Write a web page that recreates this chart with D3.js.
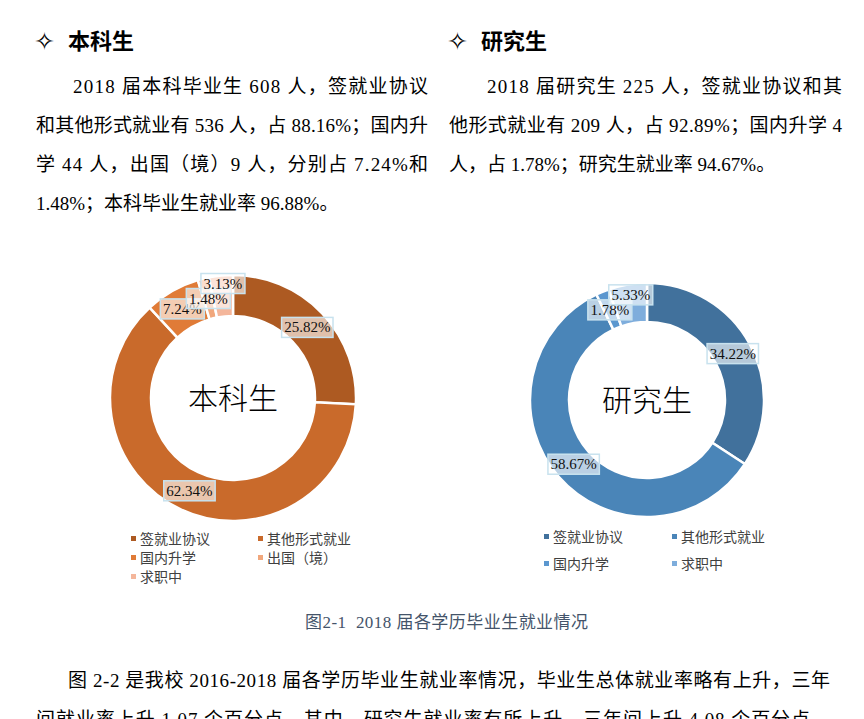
<!DOCTYPE html>
<html>
<head>
<meta charset="utf-8">
<script src="https://cdn.jsdelivr.net/npm/d3@7"></script>
<style>
  body { margin: 0; background: #fff; }
  svg text { font-family: "Liberation Serif", "Noto Sans CJK SC", serif; }
</style>
</head>
<body>
<div id="page"></div>
<script>
// data
var ugCats = ["签就业协议", "其他形式就业", "国内升学", "出国（境）", "求职中"];
var ugVals = [25.82, 62.34, 7.24, 1.48, 3.13];
var ugColors = ["#ad5a22", "#c96a2b", "#e07b37", "#f1a77c", "#f4b69b"];

var gradCats = ["签就业协议", "其他形式就业", "国内升学", "求职中"];
var gradVals = [34.22, 58.67, 1.78, 5.33];
var gradColors = ["#41719c", "#4a85b8", "#5b97cf", "#7eaddc"];

var ugLines = ["2018 届本科毕业生 608 人，签就业协议",
               "和其他形式就业有 536 人，占 88.16%；国内升",
               "学 44 人，出国（境）9 人，分别占 7.24%和",
               "1.48%；本科毕业生就业率 96.88%。"];
var gradLines = ["2018 届研究生 225 人，签就业协议和其",
                 "他形式就业有 209 人，占 92.89%；国内升学 4",
                 "人，占 1.78%；研究生就业率 94.67%。"];
var bottomLines = ["图 2-2 是我校 2016-2018 届各学历毕业生就业率情况，毕业生总体就业率略有上升，三年",
                   "间就业率上升 1.07 个百分点，其中，研究生就业率有所上升，三年间上升 4.08 个百分点，"];
var caption = "图2-1  2018 届各学历毕业生就业情况";

var width = 864, height = 719;

var svg = d3.select("#page").append("svg")
    .attr("width", width)
    .attr("height", height);

// headings
function heading(x, label) {
  svg.append("text")
     .attr("x", x).attr("y", 50)
     .style("font-family", "'DejaVu Sans', sans-serif")
     .style("font-size", "25px")
     .attr("fill", "#000")
     .text("✧");
  svg.append("text")
     .attr("x", x + 34).attr("y", 49)
     .style("font-family", "'Noto Sans CJK SC', sans-serif")
     .style("font-weight", "700")
     .style("font-size", "22px")
     .attr("fill", "#000")
     .text(label);
}
heading(34, "本科生");
heading(447, "研究生");

// paragraphs, justified lines get a textLength
function para(lines, starts, ends, y0) {
  lines.forEach(function(t, i) {
    var el = svg.append("text")
       .attr("x", starts[i])
       .attr("y", y0 + i * 39)
       .style("font-size", "19px")
       .attr("fill", "#000")
       .text(t);
    if (ends[i]) {
      el.attr("textLength", ends[i] - starts[i]).attr("lengthAdjust", "spacing");
    }
  });
}
para(ugLines, [73, 36, 36, 36], [428, 428, 428, null], 93);
para(gradLines, [487, 449, 449], [842, 842, null], 93);
para(bottomLines, [68, 36], [830, 830], 687);

// caption
svg.append("text")
   .attr("x", 305).attr("y", 628)
   .attr("textLength", 283).attr("lengthAdjust", "spacing")
   .style("font-size", "17px")
   .style("white-space", "pre")
   .attr("fill", "#44546a")
   .text(caption);

function donut(cx, cy, rOut, rIn, vals, colors, centerLabel) {
  var g = svg.append("g").attr("transform", "translate(" + cx + "," + cy + ")");
  var pie = d3.pie().sort(null).value(function(d) { return d; });
  var arcs = pie(vals);
  var arc = d3.arc().innerRadius(rIn).outerRadius(rOut);

  g.selectAll("path.slice")
   .data(arcs)
   .enter()
   .append("path")
   .attr("class", "slice")
   .attr("d", arc)
   .attr("fill", function(d, i) { return colors[i]; })
   .attr("stroke", "#fff")
   .attr("stroke-width", 2.5);

  g.append("text")
   .attr("text-anchor", "middle")
   .attr("y", 11)
   .style("font-family", "'Noto Sans CJK SC', sans-serif")
   .style("font-weight", "300")
   .style("font-size", "30px")
   .attr("fill", "#000")
   .text(centerLabel);

  // label positions at the ring centroid, a crowded label gets pushed up
  var pos = arcs.map(function(d) { return arc.centroid(d); });
  var boxW = [], boxH = 20, sep = 15;
  arcs.forEach(function(d, i) {
    var s = d.value.toFixed(2) + "%";
    boxW.push(s.length * 7.4 + 7);
    if (i > 0) {
      var dx = Math.abs(pos[i][0] - pos[i - 1][0]);
      var overlap = (boxW[i] + boxW[i - 1]) / 2 - dx;
      if (overlap > boxW[i] / 2 && pos[i][1] > pos[i - 1][1] - sep) {
        pos[i][1] = pos[i - 1][1] - sep;
      }
    }
  });

  var lab = g.selectAll("g.lab")
    .data(arcs)
    .enter()
    .append("g")
    .attr("class", "lab")
    .attr("transform", function(d, i) { return "translate(" + pos[i] + ")"; });

  lab.append("rect")
     .attr("x", function(d, i) { return -boxW[i] / 2; })
     .attr("y", -boxH / 2)
     .attr("width", function(d, i) { return boxW[i]; })
     .attr("height", boxH)
     .attr("fill", "#fff")
     .attr("fill-opacity", 0.62)
     .attr("stroke", "#c8e2ee")
     .attr("stroke-width", 1.5);

  lab.append("text")
     .attr("text-anchor", "middle")
     .attr("y", 5)
     .style("font-size", "15px")
     .attr("fill", "#111")
     .text(function(d) { return d.value.toFixed(2) + "%"; });
}

donut(233, 398, 123, 82, ugVals, ugColors, "本科生");
donut(647, 400, 117, 78, gradVals, gradColors, "研究生");

function legend(x0, y0, colW, rowH, cats, colors) {
  var items = svg.selectAll(null)
    .data(cats)
    .enter()
    .append("g")
    .attr("transform", function(d, i) {
      return "translate(" + (x0 + (i % 2) * colW) + "," + (y0 + Math.floor(i / 2) * rowH) + ")";
    });
  items.append("rect")
       .attr("x", 0).attr("y", -3)
       .attr("width", 5).attr("height", 5)
       .attr("fill", function(d, i) { return colors[i]; });
  items.append("text")
       .attr("x", 9).attr("y", 5)
       .style("font-family", "'Noto Sans CJK SC', sans-serif")
       .style("font-size", "14px")
       .attr("fill", "#404040")
       .text(function(d) { return d; });
}
legend(131, 539, 127, 19, ugCats, ugColors);
legend(544, 537, 128, 27, gradCats, gradColors);
</script>
</body>
</html>
